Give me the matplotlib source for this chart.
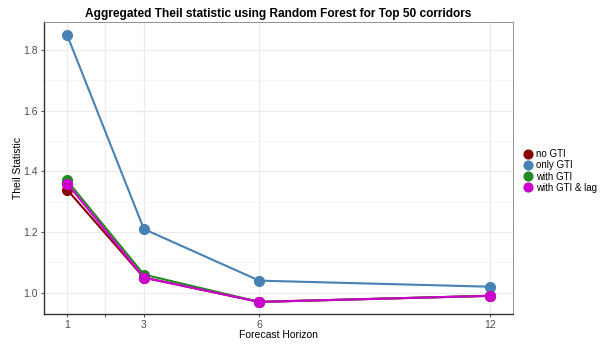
import matplotlib.pyplot as plt

# ------------------------------------------------------------------------
horizons = [1, 3, 6, 12]
series_names = ["no GTI", "only GTI", "with GTI", "with GTI & lag"]
no_gti = [1.34, 1.05, 0.97, 0.99]
only_gti = [1.85, 1.21, 1.04, 1.02]
with_gti = [1.37, 1.06, 0.97, 0.99]
with_gti_lag = [1.36, 1.05, 0.97, 0.99]
colors = ["#8B0000", "#4682B4", "#228B22", "#CD00CD"]
# ------------------------------------------------------------------------

plt.rcParams["font.family"] = ["Liberation Sans", "DejaVu Sans"]

fig = plt.figure(figsize=(6.05, 3.44), dpi=100)
ax = fig.add_axes([0.0727, 0.088, 0.775, 0.847])

for name, vals, col in zip(series_names, [no_gti, only_gti, with_gti, with_gti_lag], colors):
    ax.plot(horizons, vals, color=col, linewidth=1.5, marker="o",
            markersize=7, label=name)

ax.set_xlim(0.40, 12.6)
ax.set_ylim(0.931, 1.891)

ax.set_xticks([1, 2, 3, 6, 12])
ax.set_xticklabels(["1", "", "3", "6", "12"])
ax.set_yticks([1.0, 1.2, 1.4, 1.6, 1.8])
ax.set_yticklabels(["1.0", "1.2", "1.4", "1.6", "1.8"])
ax.set_yticks([1.1, 1.3, 1.5, 1.7], minor=True)

ax.grid(which="major", color="#EBEBEB", linewidth=0.9)
ax.grid(which="minor", axis="y", color="#F2F2F2", linewidth=0.5)
ax.set_axisbelow(True)
ax.tick_params(which="minor", length=0)
ax.tick_params(which="major", length=2.5, width=0.6, color="#333333",
               labelsize=7.5, labelcolor="#4D4D4D", pad=2)

for side in ["top", "right"]:
    ax.spines[side].set_color("#7F7F7F")
    ax.spines[side].set_linewidth(0.6)
for side in ["left", "bottom"]:
    ax.spines[side].set_color("#333333")
    ax.spines[side].set_linewidth(1.0)

ax.set_xlabel("Forecast Horizon", fontsize=7.5, labelpad=0)
ax.set_ylabel("Theil Statistic", fontsize=7.5, labelpad=0)
ax.set_title("Aggregated Theil statistic using Random Forest for Top 50 corridors",
             fontsize=8.6, fontweight="bold", pad=4)

leg = ax.legend(loc="center left", bbox_to_anchor=(1.0, 0.49), frameon=False,
                fontsize=7, handlelength=0.8, handletextpad=0.4,
                labelspacing=0.12, borderaxespad=0.8, markerscale=0.9)
for h in leg.legend_handles:
    h.set_linestyle("")

fig.savefig("out.png", dpi=100)
